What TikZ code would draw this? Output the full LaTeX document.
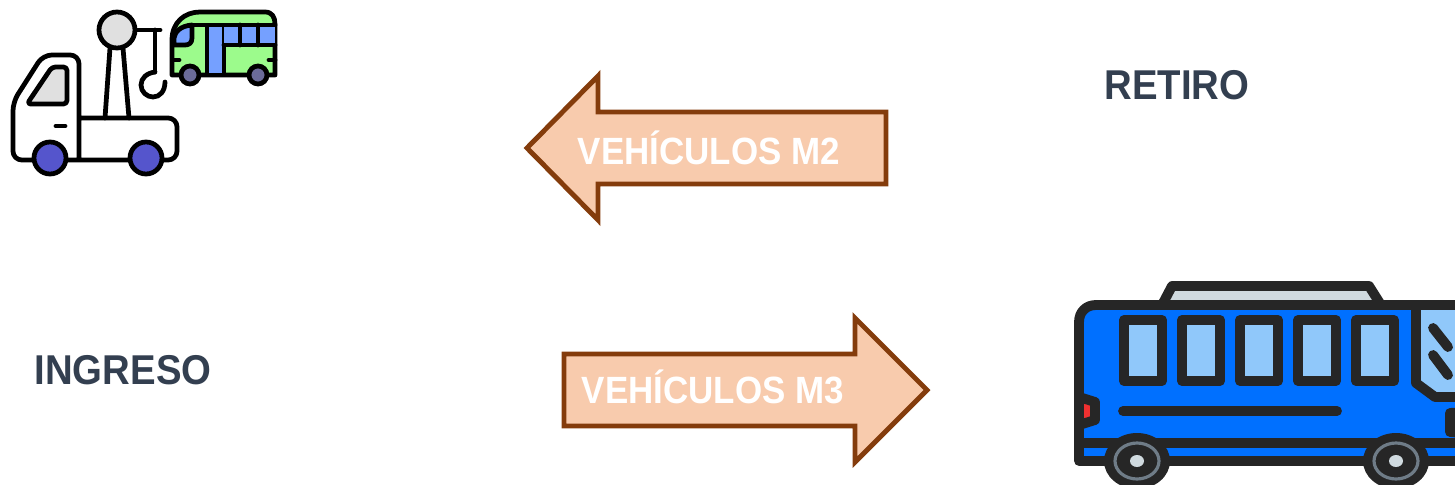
\documentclass[tikz,border=0pt]{standalone}
\usepackage{fontspec}
\setmainfont{Liberation Sans}[FakeStretch=0.92]
\definecolor{labelgray}{HTML}{333F50}
\definecolor{arrowfill}{HTML}{F8CBAD}
\definecolor{arrowline}{HTML}{843C0C}
\definecolor{greybox}{HTML}{E0E0E0}
\definecolor{wheelblue}{HTML}{5555CC}
\definecolor{minigreen}{HTML}{9CFB8C}
\definecolor{miniblue}{HTML}{75A0FF}
\definecolor{miniwheel}{HTML}{6B6B99}
\definecolor{busblue}{HTML}{0070FF}
\definecolor{busdark}{HTML}{262626}
\definecolor{buspane}{HTML}{90C8FA}
\definecolor{busroof}{HTML}{D0DADF}
\definecolor{busring}{HTML}{6F7C87}
\definecolor{buslamp}{HTML}{F03030}
\tikzset{
    flow/.style={draw=arrowline, fill=arrowfill, line width=1.4pt, miter limit=10},
    flowtext/.style={text=white, font=\bfseries\fontsize{10.8}{13}\selectfont, inner sep=0pt, anchor=base},
    sidetext/.style={text=labelgray, font=\bfseries\fontsize{11.85}{14}\selectfont, inner sep=0pt, anchor=base},
    ink/.style={draw=black, line width=1.35pt, line join=round, line cap=round},
    busink/.style={draw=busdark, line width=2.8pt, line join=round, line cap=round}
}
\begin{document}
\begin{tikzpicture}[x=0.01cm, y=-0.01cm]
    \clip (0,0) rectangle (1455,485);
    % arrows
    \draw [flow] (527,148) -- (598,76) -- (598,112) -- (886,112) -- (886,184) -- (598,184) -- (598,220) -- cycle;
    \draw [flow] (927,390) -- (855,318) -- (855,354) -- (564,354) -- (564,426) -- (855,426) -- (855,462) -- cycle;
    \node (m2text) [flowtext] at (709,165) {VEHÍCULOS M2};
    \node (m3text) [flowtext] at (713,403) {VEHÍCULOS M3};
    \node (retiro) [sidetext] at (1177,100) {RETIRO};
    \node (ingreso) [sidetext] at (123,384) {INGRESO};
    % tow truck
    \draw [ink, rounded corners=2.5pt] (79,160) -- (79,55) -- (43,55) -- (13,102) -- (13,160) -- (177,160) -- (177,118) -- (79,118);
    \draw [ink, fill=greybox, rounded corners=1pt] (27,104) -- (52,67) -- (67,67) -- (67,104) -- cycle;
    \draw [ink] (56,126) -- (65,126);
    \draw [ink] (110,48) -- (105,118) (123,48) -- (129,118);
    \draw [ink] (135,30) -- (160,30) (155,30) -- (155,72);
    \draw [ink] (155,72) .. controls (147,73) and (141,78) .. (141,85) .. controls (141,92) and (147,97) .. (153,97) .. controls (160,97) and (165,91) .. (165,82);
    \draw [ink, fill=greybox] (117,30) circle (18);
    \draw [ink, fill=wheelblue] (50,158) circle (16);
    \draw [ink, fill=wheelblue] (146,158) circle (16);
    % small bus
    \draw [ink, fill=minigreen] (172,75) -- (172,40) .. controls (172,22) and (185,12) .. (200,12) -- (265,12) .. controls (272,12) and (275,17) .. (275,24) -- (275,75) -- cycle;
    \draw [ink, fill=miniblue] (174,45) -- (174,38) .. controls (175,32) and (180,26) .. (192,25) -- (192,38) .. controls (192,43) and (189,45) .. (185,45) -- cycle;
    \draw [ink, fill=miniblue] (207,25) rectangle (224,75);
    \fill [miniblue] (224,25) rectangle (275,45);
    \draw [ink] (192,25) -- (275,25) (224,45) -- (275,45);
    \draw [ink] (240,25) -- (240,45) (258,25) -- (258,45);
    \draw [ink] (175,60) -- (179,60) (269,60) -- (275,60);
    \draw [ink, fill=miniwheel] (190,75) circle (9);
    \draw [ink, fill=miniwheel] (258,75) circle (9);
    % big bus
    \draw [busink, fill=busroof] (1162,305) -- (1172,286) -- (1369,286) -- (1381,305) -- cycle;
    \draw [busink, fill=busblue] (1500,461) -- (1079,461) -- (1079,322) .. controls (1079,312) and (1086,305) .. (1096,305) -- (1500,305) -- cycle;
    \draw [busink] (1079,443) -- (1500,443);
    \foreach \winx in {1124,1182,1240,1298,1356} {
        \draw [busink, fill=buspane] (\winx,320) rectangle (\winx+38,381);
    }
    \draw [busink] (1123,411) -- (1337,411);
    \draw [busink, fill=buspane] (1416,305) -- (1416,383) -- (1435,397) -- (1500,397) -- (1500,305) -- cycle;
    \draw [busink] (1433,328) -- (1448,347) (1433,355) -- (1448,375);
    \draw [busink, fill=busdark] (1500,410) -- (1450,413) -- (1450,432) -- (1500,436) -- cycle;
    \draw [busink, fill=buslamp] (1079,397) -- (1095,402) -- (1095,420) -- (1079,425) -- cycle;
    \foreach \wheelx in {1137,1396} {
        \fill [busdark] (\wheelx,461) ellipse (33 and 28);
        \draw [draw=busring, line width=0.9pt] (\wheelx,461) ellipse (22 and 18);
        \fill [busroof] (\wheelx,461) ellipse (7 and 6);
    }
\end{tikzpicture}
\end{document}
